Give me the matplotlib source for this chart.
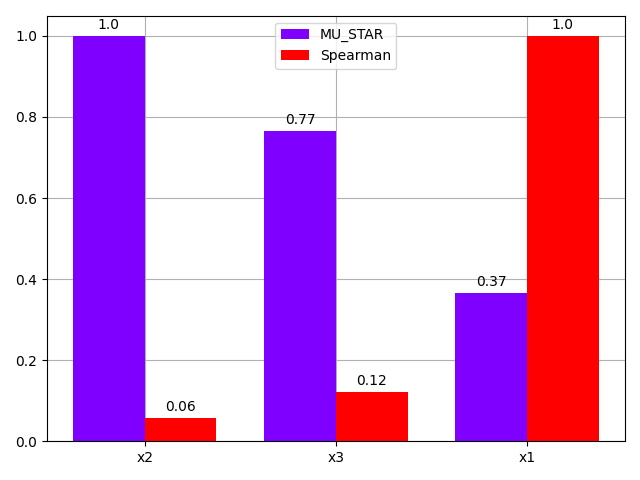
import matplotlib
matplotlib.use('Agg')
import matplotlib.pyplot as plt
import numpy as np

params = ['x2', 'x3', 'x1']
mu_star = [1.0, 0.765, 0.366]
spearman = [0.057, 0.121, 1.0]

x = np.arange(len(params))
width = 0.375

fig, ax = plt.subplots(figsize=(6.4, 4.8), dpi=100)
b1 = ax.bar(x - width / 2, mu_star, width, label='MU_STAR', color='#8000ff')
b2 = ax.bar(x + width / 2, spearman, width, label='Spearman', color='#ff0000')
ax.bar_label(b1, labels=[str(round(v, 2)) for v in mu_star], padding=3)
ax.bar_label(b2, labels=[str(round(v, 2)) for v in spearman], padding=3)
ax.set_xticks(x)
ax.set_xticklabels(params)
ax.set_axisbelow(True)
ax.grid(True)
ax.legend(loc='upper center')
fig.tight_layout()
fig.savefig('out.png')
